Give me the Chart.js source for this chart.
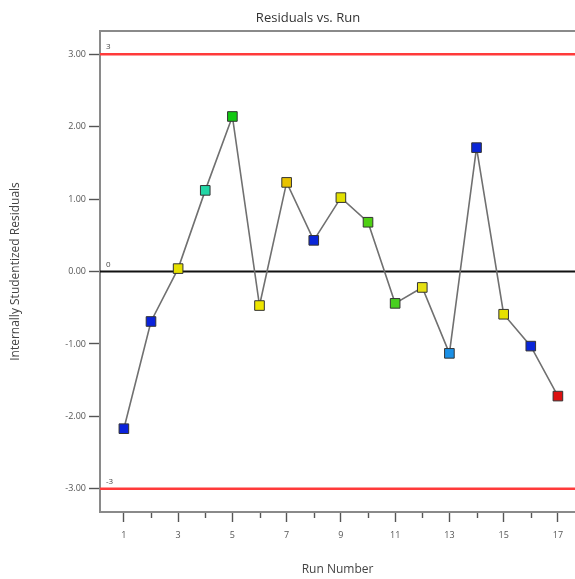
<!DOCTYPE html>
<html>
<head>
<meta charset="utf-8">
<script src="https://cdn.jsdelivr.net/npm/chart.js@4/dist/chart.umd.min.js"></script>
<style>
  html, body { margin: 0; padding: 0; background: #fff; }
  #wrap { width: 575px; height: 579px; }
</style>
</head>
<body>
<div id="wrap"><canvas id="c" width="575" height="579"></canvas></div>
<script>
// Run order and internally studentized residuals
const runs = [1, 2, 3, 4, 5, 6, 7, 8, 9, 10, 11, 12, 13, 14, 15, 16, 17];
const residuals = [-2.17, -0.69, 0.04, 1.12, 2.14, -0.47, 1.23, 0.43, 1.02, 0.68, -0.44, -0.22, -1.13, 1.71, -0.59, -1.03, -1.72];
// point colours by run
const pointColors = ['#0a22dc', '#0a22dc', '#e6e000', '#22d6a6', '#12c812', '#eee600', '#e8c200', '#0a26d8',
  '#e2e000', '#4ed012', '#48d020', '#e6e012', '#1a90e6', '#0a26d8', '#e6e000', '#0a26d8', '#dc1010'];
// limit lines
const limitValues = [3, 0, -3];
const limitLabels = ['3', '0', '-3'];
const limitColors = ['#ff3a3a', '#111111', '#ff3a3a'];
// axis ticks
const xTicks = [1, 2, 3, 4, 5, 6, 7, 8, 9, 10, 11, 12, 13, 14, 15, 16, 17];
const yTicks = [-3, -2, -1, 0, 1, 2, 3];
const yTickLabels = ['-3.00', '-2.00', '-1.00', '0.00', '1.00', '2.00', '3.00'];

const X_MIN = 0.12, X_MAX = 17.63, Y_MIN = -3.32, Y_MAX = 3.32;
const FONT = '"Open Sans", "Noto Sans", sans-serif';

const datasets = [{
  label: 'Residuals',
  data: runs.map((r, i) => ({ x: r, y: residuals[i] })),
  showLine: true,
  borderColor: '#707070',
  borderWidth: 1.6,
  pointStyle: 'rect',
  pointRadius: 6.8,
  pointHoverRadius: 6.8,
  pointBackgroundColor: pointColors,
  pointBorderColor: '#333333',
  pointBorderWidth: 1
}];
limitValues.forEach((v, i) => {
  datasets.push({
    label: limitLabels[i],
    data: [{ x: X_MIN, y: v }, { x: X_MAX, y: v }],
    showLine: true,
    borderColor: limitColors[i],
    borderWidth: i === 1 ? 2 : 2.6,
    pointRadius: 0
  });
});

// frame top edge, minor x ticks, limit labels and chart title
const decorations = {
  id: 'decorations',
  afterDraw(chart) {
    const { ctx, chartArea: a, scales: { x, y } } = chart;
    ctx.save();
    // top frame edge
    ctx.strokeStyle = '#8a8a8a';
    ctx.lineWidth = 2;
    ctx.beginPath();
    ctx.moveTo(a.left - 1, a.top);
    ctx.lineTo(a.right, a.top);
    ctx.stroke();
    // minor ticks on even runs
    ctx.strokeStyle = '#555555';
    ctx.lineWidth = 1.4;
    xTicks.filter(v => v % 2 === 0).forEach(v => {
      const px = Math.round(x.getPixelForValue(v)) + 0.5;
      ctx.beginPath();
      ctx.moveTo(px, a.bottom + 1);
      ctx.lineTo(px, a.bottom + 6);
      ctx.stroke();
    });
    // limit line labels
    ctx.fillStyle = '#444444';
    ctx.font = '8px ' + FONT;
    ctx.textAlign = 'left';
    ctx.textBaseline = 'alphabetic';
    limitValues.forEach((v, i) => {
      ctx.fillText(limitLabels[i], a.left + 6, y.getPixelForValue(v) - 5);
    });
    // title
    ctx.fillStyle = '#333333';
    ctx.font = '13px ' + FONT;
    ctx.textAlign = 'center';
    ctx.textBaseline = 'middle';
    ctx.fillText('Residuals vs. Run', 308, 18);
    ctx.restore();
  }
};

new Chart(document.getElementById('c'), {
  type: 'scatter',
  data: { datasets },
  plugins: [decorations],
  options: {
    responsive: false,
    animation: false,
    devicePixelRatio: 1,
    layout: { autoPadding: false, padding: { top: 31, right: 0, bottom: 0, left: 0 } },
    plugins: { legend: { display: false }, tooltip: { enabled: false }, title: { display: false } },
    scales: {
      x: {
        type: 'linear',
        min: X_MIN,
        max: X_MAX,
        afterBuildTicks: s => { s.ticks = xTicks.map(v => ({ value: v })); },
        afterFit: s => { s.height = 67; },
        border: { display: true, color: '#8a8a8a', width: 2 },
        grid: {
          drawOnChartArea: false,
          drawTicks: true,
          tickLength: 10,
          tickWidth: 1.4,
          tickColor: ctx => (ctx.tick && ctx.tick.value % 2 === 1) ? '#555555' : 'rgba(0,0,0,0)'
        },
        ticks: {
          autoSkip: false,
          maxRotation: 0,
          padding: 8,
          color: '#555555',
          font: { family: FONT, size: 9 },
          callback: v => (v % 2 === 1 ? String(v) : '')
        },
        title: {
          display: true,
          text: 'Run Number',
          color: '#444444',
          font: { family: FONT, size: 12 },
          padding: { top: 0, bottom: 2 }
        }
      },
      y: {
        type: 'linear',
        min: Y_MIN,
        max: Y_MAX,
        afterBuildTicks: s => { s.ticks = yTicks.map(v => ({ value: v })); },
        afterFit: s => { s.width = 100; },
        border: { display: true, color: '#8a8a8a', width: 2 },
        grid: {
          drawOnChartArea: false,
          drawTicks: true,
          tickLength: 11,
          tickWidth: 1.4,
          tickColor: '#555555'
        },
        ticks: {
          padding: 3,
          color: '#555555',
          font: { family: FONT, size: 9 },
          callback: v => yTickLabels[yTicks.indexOf(v)]
        },
        title: {
          display: true,
          text: 'Internally Studentized Residuals',
          color: '#444444',
          font: { family: FONT, size: 12 },
          padding: { top: 8, bottom: 0 }
        }
      }
    }
  }
});
</script>
</body>
</html>
